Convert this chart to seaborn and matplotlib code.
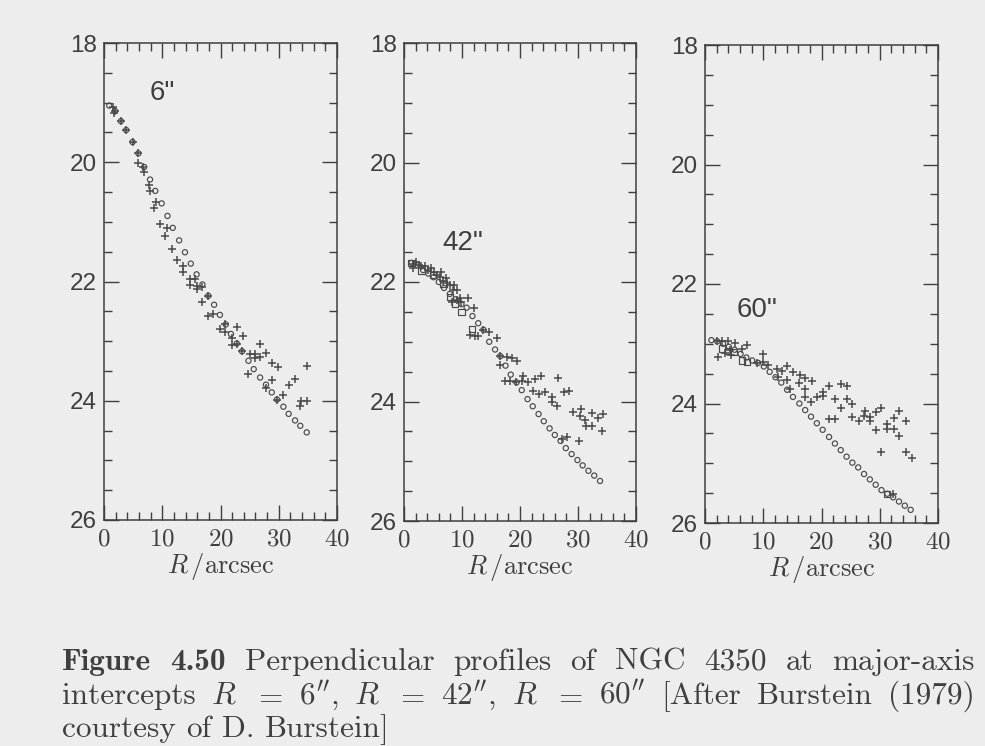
import matplotlib
matplotlib.use("Agg")
import matplotlib.pyplot as plt
import numpy as np
import pandas as pd
import seaborn as sns
from matplotlib.ticker import MultipleLocator, FixedLocator

# ---------------------------------------------------------------------------
# Perpendicular surface-brightness profiles (mag arcsec^-2) of NGC 4350
# ---------------------------------------------------------------------------
panel_labels = ['6"', '42"', '60"']
x_ticks = [0, 10, 20, 30, 40]
y_ticks = [18, 20, 22, 24, 26]

# R = 6"
p1_plus_r = [1.6, 1.7, 1.9, 2.9, 3.8, 4.9, 5.9, 5.9, 6.7, 6.9, 7.8, 7.9, 8.9, 8.6, 9.6,
             10.9, 10.5, 11.6, 12.6, 13.6, 13.6, 14.8, 15.6, 14.8, 15.9, 16.8, 15.9, 17.9,
             16.9, 17.9, 18.7, 19.9, 20.8, 22.8, 20.8, 21.9, 21.9, 23.9, 22.8, 23.7, 26.8,
             25.0, 25.9, 26.8, 27.8, 25.9, 28.8, 29.9, 34.8, 24.8, 28.8, 32.8, 31.8, 27.8,
             30.8, 29.7, 33.9, 34.8, 33.7]
p1_plus_mu = [19.08, 19.17, 19.14, 19.31, 19.46, 19.66, 19.85, 20.01, 20.08, 20.16, 20.38,
              20.49, 20.66, 20.77, 21.03, 21.11, 21.24, 21.45, 21.64, 21.74, 21.84, 21.96,
              21.96, 22.06, 22.08, 22.10, 22.13, 22.24, 22.34, 22.58, 22.55, 22.79, 22.72,
              22.76, 22.85, 22.95, 23.07, 22.91, 23.04, 23.17, 23.04, 23.21, 23.21, 23.27,
              23.20, 23.29, 23.36, 23.43, 23.41, 23.55, 23.66, 23.64, 23.73, 23.79, 23.91,
              23.98, 24.01, 24.01, 24.09]
p1_circ_r = [0.9, 1.9, 2.9, 3.8, 4.9, 5.9, 6.9, 7.9, 8.8, 9.9, 10.9, 11.8, 12.9, 13.9, 14.9,
             15.9, 16.9, 17.9, 18.9, 19.9, 20.9, 21.8, 22.8, 23.7, 24.8, 25.7, 26.8, 27.8,
             28.8, 29.7, 30.8, 31.7, 32.8, 33.7, 34.8]
p1_circ_mu = [19.05, 19.14, 19.31, 19.46, 19.66, 19.85, 20.08, 20.29, 20.48, 20.69, 20.90,
              21.10, 21.31, 21.51, 21.70, 21.88, 22.05, 22.24, 22.39, 22.56, 22.72, 22.88,
              23.04, 23.17, 23.33, 23.47, 23.61, 23.73, 23.86, 23.98, 24.10, 24.22, 24.33,
              24.42, 24.53]
p1_sq_r = []
p1_sq_mu = []

# R = 42"
p2_plus_r = [1.6, 2.5, 3.0, 3.6, 1.6, 4.2, 5.1, 5.7, 6.2, 6.8, 7.4, 7.9, 8.5, 9.1, 8.2,
             9.1, 9.9, 11.1, 9.7, 12.0, 11.4, 12.2, 12.8, 13.7, 14.7, 16.0, 16.6, 17.7,
             18.6, 19.4, 16.6, 17.4, 18.3, 19.3, 20.3, 20.6, 21.4, 22.6, 23.6, 22.3, 23.3,
             24.3, 25.5, 25.5, 26.3, 26.6, 27.5, 28.5, 29.2, 30.5, 30.3, 31.2, 31.3, 32.4,
             32.4, 33.4, 34.3, 34.2, 27.2, 28.1, 30.1, 2.1, 4.7, 6.4, 7.2, 8.6]
p2_plus_mu = [21.70, 21.72, 21.73, 21.74, 21.77, 21.80, 21.83, 21.88, 21.91, 21.98, 22.02,
              22.05, 22.13, 22.13, 22.33, 22.30, 22.33, 22.27, 22.27, 22.43, 22.89, 22.90,
              22.91, 22.80, 22.83, 22.94, 23.24, 23.26, 23.28, 23.33, 23.39, 23.66, 23.66,
              23.67, 23.66, 23.57, 23.68, 23.63, 23.57, 23.82, 23.87, 23.84, 23.92, 24.00,
              24.07, 23.60, 23.84, 23.82, 24.17, 24.13, 24.25, 24.31, 24.41, 24.41, 24.20,
              24.28, 24.21, 24.49, 24.62, 24.59, 24.66, 21.66, 21.77, 21.84, 21.93, 22.05]
p2_circ_r = [1.3, 2.3, 3.3, 4.2, 5.1, 6.0, 6.9, 7.9, 8.9, 9.9, 10.8, 11.8, 12.8, 13.7, 14.7,
             15.7, 16.6, 17.5, 18.4, 19.4, 20.3, 21.3, 22.2, 23.2, 24.1, 25.1, 26.0, 27.0,
             27.9, 28.9, 29.9, 30.8, 31.8, 32.8, 33.8]
p2_circ_mu = [21.68, 21.72, 21.80, 21.86, 21.92, 22.00, 22.10, 22.20, 22.29, 22.37, 22.43,
              22.57, 22.69, 22.80, 23.00, 23.13, 23.24, 23.40, 23.55, 23.68, 23.81, 23.96,
              24.08, 24.21, 24.33, 24.45, 24.56, 24.66, 24.78, 24.88, 24.98, 25.07, 25.16,
              25.24, 25.33]
p2_sq_r = [1.3, 3.0, 5.0, 6.8, 7.9, 8.8, 9.9, 11.7]
p2_sq_mu = [21.68, 21.82, 21.88, 22.03, 22.25, 22.36, 22.50, 22.79]

# R = 60"
p3_plus_r = [2.0, 2.9, 4.0, 5.1, 7.2, 6.3, 4.3, 2.3, 3.4, 4.4, 10.0, 10.0, 8.9, 10.9, 12.3,
             14.1, 13.2, 15.1, 12.6, 14.1, 16.3, 16.2, 17.2, 14.6, 17.2, 18.2, 19.2, 17.2,
             18.3, 20.2, 20.2, 21.3, 23.3, 24.3, 22.3, 24.3, 25.3, 23.3, 21.3, 22.3, 25.3,
             26.5, 27.4, 27.3, 28.3, 28.4, 29.3, 30.3, 29.4, 31.3, 31.3, 32.4, 33.3, 32.4,
             34.5, 33.3, 30.3, 34.5, 35.5, 32.3]
p3_plus_mu = [22.95, 22.95, 22.96, 22.99, 23.02, 23.08, 23.10, 23.23, 23.16, 23.19, 23.17,
              23.30, 23.33, 23.36, 23.43, 23.38, 23.46, 23.47, 23.56, 23.61, 23.52, 23.65,
              23.75, 23.76, 23.89, 23.97, 23.89, 23.58, 23.62, 23.80, 23.87, 23.71, 23.67,
              23.71, 23.93, 23.93, 24.00, 24.08, 24.26, 24.26, 24.22, 24.30, 24.12, 24.21,
              24.22, 24.30, 24.14, 24.08, 24.44, 24.34, 24.43, 24.43, 24.12, 24.25, 24.30,
              24.54, 24.81, 24.82, 24.91, 25.52]
p3_circ_r = [1.1, 2.1, 3.1, 4.1, 5.1, 6.1, 7.1, 8.1, 9.1, 10.1, 11.1, 12.1, 13.1, 14.1, 15.1,
             16.2, 17.2, 18.2, 19.2, 20.2, 21.3, 22.3, 23.3, 24.3, 25.3, 26.3, 27.3, 28.3,
             29.3, 30.3, 31.3, 32.3, 33.3, 34.3, 35.3]
p3_circ_mu = [22.94, 22.96, 23.00, 23.05, 23.10, 23.17, 23.23, 23.28, 23.32, 23.38, 23.47,
              23.56, 23.65, 23.77, 23.89, 24.00, 24.11, 24.22, 24.33, 24.44, 24.56, 24.67,
              24.78, 24.89, 24.99, 25.07, 25.18, 25.27, 25.36, 25.45, 25.51, 25.57, 25.64,
              25.71, 25.78]
p3_sq_r = [2.9, 3.9, 4.9, 6.3, 7.2, 31.3]
p3_sq_mu = [23.08, 23.12, 23.14, 23.28, 23.31, 25.51]

caption_line1 = [("Figure", "cmb10"), ("4.50", "cmb10"), ("Perpendicular", "cmr10"),
                 ("profiles", "cmr10"), ("of", "cmr10"), ("NGC", "cmr10"), ("4350", "cmr10"),
                 ("at", "cmr10"), ("major-axis", "cmr10")]
caption_line2 = [("intercepts", "cmr10"), (r"$R$", "cmr10"), (r"$=$", "cmr10"),
                 (r"$6^{\prime\prime}$,", "cmr10"), (r"$R$", "cmr10"), (r"$=$", "cmr10"),
                 (r"$42^{\prime\prime}$,", "cmr10"), (r"$R$", "cmr10"), (r"$=$", "cmr10"),
                 (r"$60^{\prime\prime}$", "cmr10"), ("[After", "cmr10"), ("Burstein", "cmr10"),
                 ("(1979)", "cmr10")]
caption_line3 = [("courtesy", "cmr10"), ("of", "cmr10"), ("D.", "cmr10"),
                 ("Burstein]", "cmr10")]

# ---------------------------------------------------------------------------
BG = "#ededed"
INK = "#3f3f3f"
MARK = "#4a4a4a"
W, H = 985, 746

sns.set_theme(style="ticks")
plt.rcParams["font.family"] = ["Liberation Sans", "DejaVu Sans"]
plt.rcParams["mathtext.fontset"] = "cm"
plt.rcParams["axes.unicode_minus"] = False

fig = plt.figure(figsize=(W / 100, H / 100), dpi=100, facecolor=BG)

# axes boxes in pixels: left, top, right, bottom
boxes = [(104, 43, 337, 520), (404, 43, 636, 521), (705, 45, 938, 523)]
label_pos = [(7.9, 18.96), (6.7, 21.46), (5.5, 22.55)]

series = [
    (p1_plus_r, p1_plus_mu, p1_circ_r, p1_circ_mu, p1_sq_r, p1_sq_mu),
    (p2_plus_r, p2_plus_mu, p2_circ_r, p2_circ_mu, p2_sq_r, p2_sq_mu),
    (p3_plus_r, p3_plus_mu, p3_circ_r, p3_circ_mu, p3_sq_r, p3_sq_mu),
]

for (l, t, r, b), (pr, pm, cr, cm, sr, sm), lab, (lx, ly) in zip(boxes, series, panel_labels, label_pos):
    ax = fig.add_axes([l / W, 1 - b / H, (r - l) / W, (b - t) / H])
    ax.set_facecolor(BG)

    df_plus = pd.DataFrame({"R": pr, "mu": pm})
    df_circ = pd.DataFrame({"R": cr, "mu": cm})
    df_sq = pd.DataFrame({"R": sr, "mu": sm})

    sns.scatterplot(data=df_circ, x="R", y="mu", ax=ax, marker="o", s=14,
                    color=MARK, linewidth=0.85, legend=False)
    ax.collections[-1].set_facecolor("none")
    ax.collections[-1].set_edgecolor(MARK)
    if len(df_sq):
        sns.scatterplot(data=df_sq, x="R", y="mu", ax=ax, marker="s", s=20,
                        color=MARK, linewidth=0.85, legend=False)
        ax.collections[-1].set_facecolor("none")
        ax.collections[-1].set_edgecolor(MARK)
    sns.scatterplot(data=df_plus, x="R", y="mu", ax=ax, marker="+", s=40,
                    color=MARK, linewidth=1.1, legend=False)

    ax.set_xlim(0, 40)
    ax.set_ylim(26, 18)
    ax.xaxis.set_major_locator(FixedLocator(x_ticks))
    ax.xaxis.set_minor_locator(MultipleLocator(2))
    ax.yaxis.set_major_locator(FixedLocator(y_ticks))
    ax.yaxis.set_minor_locator(MultipleLocator(0.5))
    ax.set_xticklabels([f"${v}$" for v in x_ticks], fontsize=18, color=INK)
    ax.set_yticklabels([str(v) for v in y_ticks], fontsize=17.5, color=INK)

    ax.tick_params(which="both", direction="in", top=True, right=True,
                   color=INK, width=1.0)
    ax.tick_params(which="major", length=11, pad=5)
    ax.tick_params(which="minor", length=5.5)
    for sp in ax.spines.values():
        sp.set_visible(True)
        sp.set_color(INK)
        sp.set_linewidth(1.1)

    ax.set_xlabel(r"$R\,/\mathrm{arcsec}$", fontsize=19, color=INK, labelpad=0)
    ax.set_ylabel("")
    ax.text(lx, ly, lab, fontsize=20, color=INK, va="baseline", ha="left",
            family=["Liberation Sans", "DejaVu Sans"])

# ---------------------------------------------------------------------------
# Caption, set in a justified block
CAP = 22.5
renderer = fig.canvas.get_renderer()


def caption_line(items, y_px, x0=62, x1=975, justify=True):
    texts = []
    for s, fam in items:
        txt = fig.text(0, 1 - y_px / H, s, fontsize=CAP, color=INK, ha="left",
                       va="baseline", family=fam)
        texts.append(txt)
    widths = [txt.get_window_extent(renderer).width for txt in texts]
    if justify:
        gap = (x1 - x0 - sum(widths)) / (len(texts) - 1)
    else:
        gap = CAP * 100 / 72 * 0.33
    x = x0
    for txt, w in zip(texts, widths):
        txt.set_x(x / W)
        x += w + gap


caption_line(caption_line1, 670)
caption_line(caption_line2, 704)
caption_line(caption_line3, 737, justify=False)

fig.savefig("out.png", dpi=100, facecolor=BG)
